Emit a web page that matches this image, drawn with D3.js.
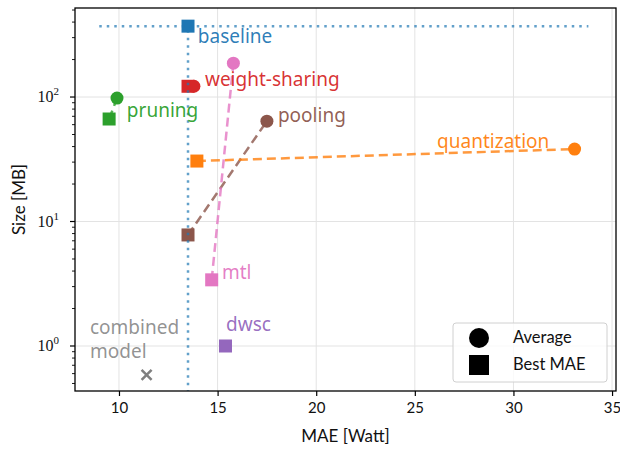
<!DOCTYPE html>
<html>
<head>
<meta charset="utf-8">
<script src="https://cdn.jsdelivr.net/npm/d3@7"></script>
<style>
  body { margin: 0; background: #fff; }
  svg { display: block; }
  .lbl { font-family: "Noto Sans", Lato, sans-serif; }
</style>
</head>
<body>
<svg id="chart"></svg>
<script>
// values
const methods = ['baseline', 'weight-sharing', 'pruning', 'pooling', 'quantization', 'mtl', 'dwsc', 'combined model'];
const colors = ['#1f77b4', '#d62728', '#2ca02c', '#8c564b', '#ff7f0e', '#e377c2', '#9467bd', '#7f7f7f'];
const avgMAE = [null, 13.8, 9.9, 17.5, 33.1, 15.8, null, null];
const avgSize = [null, 122, 98, 64, 38.2, 187, null, null];
const bestMAE = [13.5, 13.5, 9.5, 13.5, 13.95, 14.7, 15.4, null];
const bestSize = [371, 122, 66.6, 7.8, 30.6, 3.4, 1.0, null];
const combinedMAE = 11.4;
const combinedSize = 0.585;
const labelMAE = [14.0, 14.36, 10.4, 18.06, 26.13, 15.22, 15.43, 8.53];
const labelSize = [272, 122.5, 69, 63, 38.9, 3.47, 1.32, 1.25];
const baselineSpan = [9.0, 33.8];
const xTicks = [10, 15, 20, 25, 30, 35];
const yTicks = [1, 10, 100];

const W = 620, H = 449;
const margin = { top: 8, right: 4, bottom: 58, left: 75 };

const svg = d3.select('#chart').attr('width', W).attr('height', H);

const x = d3.scaleLinear().domain([7.77, 35.2]).range([margin.left, W - margin.right]);
const y = d3.scaleLog().domain([0.435, 519]).range([H - margin.bottom, margin.top]);

const g = svg.append('g');

// grid
g.append('g').selectAll('line')
  .data(xTicks)
  .enter().append('line')
  .attr('x1', d => x(d)).attr('x2', d => x(d))
  .attr('y1', margin.top).attr('y2', H - margin.bottom)
  .attr('stroke', '#e3e3e3').attr('stroke-width', 1);
g.append('g').selectAll('line')
  .data(yTicks)
  .enter().append('line')
  .attr('x1', margin.left).attr('x2', W - margin.right)
  .attr('y1', d => y(d)).attr('y2', d => y(d))
  .attr('stroke', '#e3e3e3').attr('stroke-width', 1);

// x axis
const xAxis = g.append('g')
  .attr('transform', `translate(0,${H - margin.bottom})`)
  .call(d3.axisBottom(x).tickValues(xTicks).tickSize(5).tickPadding(6).tickFormat(d3.format('d')));
xAxis.select('.domain').remove();
xAxis.selectAll('.tick line').attr('stroke', '#000').attr('stroke-width', 1.2);
xAxis.selectAll('text').attr('font-family', 'Lato, sans-serif').attr('font-size', 15).attr('fill', '#111');

// y axis (log) with minor ticks
const minor = [];
for (let e = -1; e <= 2; e++) {
  for (let m = 2; m <= 9; m++) {
    const v = m * Math.pow(10, e);
    if (v >= 0.435 && v <= 519) minor.push(v);
  }
}
const yAxis = g.append('g').attr('transform', `translate(${margin.left},0)`);
yAxis.selectAll('.minor')
  .data(minor).enter().append('line')
  .attr('x1', 0).attr('x2', -3)
  .attr('y1', d => y(d)).attr('y2', d => y(d))
  .attr('stroke', '#000').attr('stroke-width', 0.9);
yAxis.selectAll('.major')
  .data(yTicks).enter().append('line')
  .attr('x1', 0).attr('x2', -5)
  .attr('y1', d => y(d)).attr('y2', d => y(d))
  .attr('stroke', '#000').attr('stroke-width', 1.2);
const ylab = yAxis.selectAll('.ylab')
  .data(yTicks).enter().append('text')
  .attr('x', -16).attr('y', d => y(d) + 5)
  .attr('text-anchor', 'end')
  .attr('font-family', '"Liberation Serif", "DejaVu Serif", serif')
  .attr('font-size', 16).attr('fill', '#111');
ylab.append('tspan').text('10');
ylab.append('tspan').attr('dy', -7).attr('font-size', 11).text(d => Math.round(Math.log10(d)));

// axis titles
svg.append('text')
  .attr('x', (margin.left + W - margin.right) / 2).attr('y', 442)
  .attr('text-anchor', 'middle').attr('font-family', 'Lato, sans-serif')
  .attr('font-size', 17).attr('fill', '#111')
  .text('MAE [Watt]');
svg.append('text')
  .attr('transform', `translate(25,${(margin.top + H - margin.bottom) / 2}) rotate(-90)`)
  .attr('text-anchor', 'middle').attr('font-family', 'Lato, sans-serif')
  .attr('font-size', 17).attr('fill', '#111')
  .text('Size [MB]');

const plot = g.append('g');

// connecting dashed lines between average and best
const pairs = methods.map((m, i) => ({ i, m }))
  .filter(d => avgMAE[d.i] != null && bestMAE[d.i] != null);
plot.selectAll('.pair')
  .data(pairs).enter().append('line')
  .attr('x1', d => x(bestMAE[d.i])).attr('y1', d => y(bestSize[d.i]))
  .attr('x2', d => x(avgMAE[d.i])).attr('y2', d => y(avgSize[d.i]))
  .attr('stroke', d => colors[d.i]).attr('stroke-opacity', 0.8)
  .attr('stroke-width', 2.5).attr('stroke-dasharray', '9 5');

// markers: squares = best MAE, circles = average
const sq = 13;
plot.selectAll('.best')
  .data(methods.map((m, i) => i).filter(i => bestMAE[i] != null))
  .enter().append('rect')
  .attr('x', i => x(bestMAE[i]) - sq / 2).attr('y', i => y(bestSize[i]) - sq / 2)
  .attr('width', sq).attr('height', sq)
  .attr('fill', i => colors[i]);
plot.selectAll('.avg')
  .data(methods.map((m, i) => i).filter(i => avgMAE[i] != null))
  .enter().append('circle')
  .attr('cx', i => x(avgMAE[i])).attr('cy', i => y(avgSize[i]))
  .attr('r', 6.5)
  .attr('fill', i => colors[i]);

// combined model cross
const cx = x(combinedMAE), cy = y(combinedSize);
plot.append('path')
  .attr('d', `M${cx - 5},${cy - 5}L${cx + 5},${cy + 5}M${cx - 5},${cy + 5}L${cx + 5},${cy - 5}`)
  .attr('stroke', colors[7]).attr('stroke-width', 2.5);

// baseline reference lines
plot.append('line')
  .attr('x1', x(baselineSpan[0])).attr('x2', x(baselineSpan[1]))
  .attr('y1', y(bestSize[0])).attr('y2', y(bestSize[0]))
  .attr('stroke', colors[0]).attr('stroke-opacity', 0.7)
  .attr('stroke-width', 2.5).attr('stroke-dasharray', '2.5 5');
plot.append('line')
  .attr('x1', x(bestMAE[0])).attr('x2', x(bestMAE[0]))
  .attr('y1', y(bestSize[0]) + 4).attr('y2', H - margin.bottom)
  .attr('stroke', colors[0]).attr('stroke-opacity', 0.7)
  .attr('stroke-width', 2.5).attr('stroke-dasharray', '2.5 5');

// labels
methods.forEach((m, i) => {
  const t = plot.append('text').attr('class', 'lbl')
    .attr('x', x(labelMAE[i])).attr('y', y(labelSize[i]))
    .attr('font-size', 19).attr('fill', colors[i])
    .attr('fill-opacity', i === 7 ? 0.85 : 0.95);
  if (i === 7) {
    const parts = m.split(' ');
    t.append('tspan').attr('x', x(labelMAE[i])).text(parts[0]);
    t.append('tspan').attr('x', x(labelMAE[i])).attr('dy', 24).text(parts[1]);
  } else {
    t.text(m);
  }
});

// frame
g.append('rect')
  .attr('x', margin.left).attr('y', margin.top)
  .attr('width', W - margin.right - margin.left)
  .attr('height', H - margin.bottom - margin.top)
  .attr('fill', 'none').attr('stroke', '#000').attr('stroke-width', 1.3);

// legend
const lg = svg.append('g').attr('transform', 'translate(453,323)');
lg.append('rect').attr('width', 154).attr('height', 59).attr('rx', 3)
  .attr('fill', '#fff').attr('fill-opacity', 0.8)
  .attr('stroke', '#d0d0d0').attr('stroke-width', 1);
lg.append('circle').attr('cx', 26).attr('cy', 15).attr('r', 10).attr('fill', '#000');
lg.append('rect').attr('x', 16).attr('y', 32).attr('width', 20).attr('height', 20).attr('fill', '#000');
lg.append('text').attr('x', 60).attr('y', 20).attr('font-family', 'Lato, sans-serif').attr('font-size', 16.5).attr('fill', '#111').text('Average');
lg.append('text').attr('x', 60).attr('y', 47).attr('font-family', 'Lato, sans-serif').attr('font-size', 16.5).attr('fill', '#111').text('Best MAE');
</script>
</body>
</html>
